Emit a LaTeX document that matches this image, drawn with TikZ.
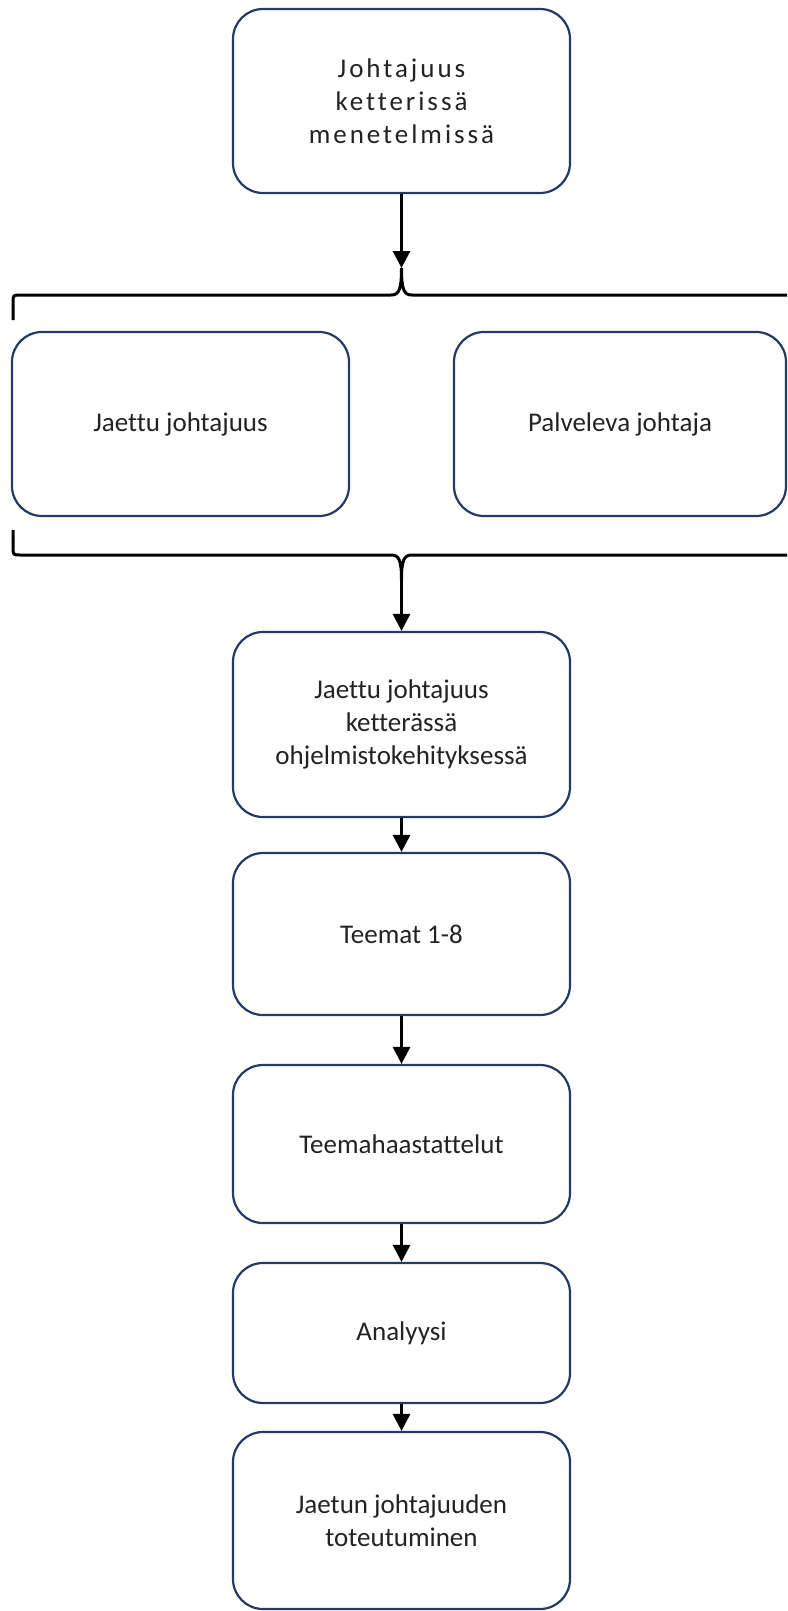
\documentclass[tikz,border=0pt]{standalone}
\usepackage{fontspec}
\setmainfont{Carlito}[Ligatures={TeX,NoCommon}]
\usetikzlibrary{arrows.meta}
\definecolor{boxline}{RGB}{36,58,98}
\definecolor{txt}{RGB}{35,35,35}
\tikzset{
  fbox/.style={draw=boxline, line width=2.2pt, rounded corners=30pt, fill=white,
    align=center, text=txt, font=\fontsize{27pt}{33pt}\selectfont, inner sep=4pt},
  flowarrow/.style={line width=3pt, -{Triangle[length=17pt,width=17pt]}},
  bracepath/.style={line width=3pt, black},
}
\begin{document}
\begin{tikzpicture}[x=1pt,y=-1pt]
\useasboundingbox (0,0) rectangle (787,1611);
\clip (0,0) rectangle (787,1611);
% boxes
\node[fbox, minimum width=337pt, minimum height=184pt] (b1) at (401.5,101)
  {\addfontfeature{LetterSpace=11}Johtajuus\\\addfontfeature{LetterSpace=11}ketterissä\\\addfontfeature{LetterSpace=11}menetelmissä};
\node[fbox, minimum width=337pt, minimum height=184pt] (left) at (180.5,424) {Jaettu johtajuus};
\node[fbox, minimum width=332pt, minimum height=184pt] (right) at (620,424) {Palveleva johtaja};
\node[fbox, minimum width=337pt, minimum height=185pt] (b3) at (401.5,724.5)
  {Jaettu johtajuus\\ketterässä\\ohjelmistokehityksessä};
\node[fbox, minimum width=337pt, minimum height=162pt] (b4) at (401.5,934) {Teemat 1-8};
\node[fbox, minimum width=337pt, minimum height=158pt] (b5) at (401.5,1144) {Teemahaastattelut};
\node[fbox, minimum width=337pt, minimum height=140pt] (b6) at (401.5,1333) {Analyysi};
\node[fbox, minimum width=337pt, minimum height=177pt] (b7) at (401.5,1520.5)
  {Jaetun johtajuuden\\toteutuminen};
% brace tips
\coordinate (cusp1) at (401.5,268);
\coordinate (cusp2) at (401.5,580);
% braces
\draw[bracepath] (13,320) -- (13,303) .. controls (13,295) .. (21,295) -- (391,295)
  .. controls (399,295) and (401.5,290) .. (cusp1)
  .. controls (401.5,290) and (404,295) .. (412,295) -- (800,295);
\draw[bracepath] (13,530) -- (13,547) .. controls (13,555) .. (21,555) -- (391,555)
  .. controls (399,555) and (401.5,560) .. (cusp2)
  .. controls (401.5,560) and (404,555) .. (412,555) -- (800,555);
% arrows
\draw[flowarrow] (b1.south) -- (cusp1);
\draw[flowarrow] (cusp2) -- (b3.north);
\draw[flowarrow] (b3.south) -- (b4.north);
\draw[flowarrow] (b4.south) -- (b5.north);
\draw[flowarrow] (b5.south) -- (b6.north);
\draw[flowarrow] (b6.south) -- (b7.north);
\end{tikzpicture}
\end{document}
